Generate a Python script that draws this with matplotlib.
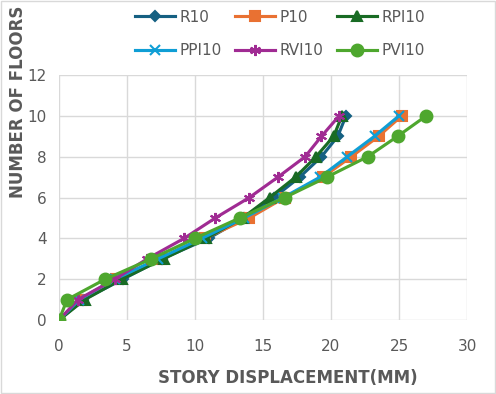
import matplotlib
matplotlib.use("Agg")
import matplotlib.pyplot as plt

floors = [0, 1, 2, 3, 4, 5, 6, 7, 8, 9, 10]
r10 = [0, 1.8, 4.7, 7.6, 11.0, 13.6, 15.8, 17.7, 19.3, 20.5, 21.1]
p10 = [0, 1.6, 4.2, 7.5, 10.7, 14.0, 16.6, 19.4, 21.5, 23.5, 25.2]
rpi10 = [0, 1.9, 4.6, 7.7, 10.8, 13.5, 15.5, 17.4, 18.9, 20.2, 20.8]
ppi10 = [0, 1.5, 4.1, 7.3, 10.5, 13.6, 16.5, 19.2, 21.2, 23.2, 25.0]
rvi10 = [0, 1.4, 4.1, 6.5, 9.2, 11.5, 14.0, 16.1, 18.1, 19.3, 20.6]
pvi10 = [0, 0.6, 3.4, 6.8, 10.0, 13.3, 16.6, 19.7, 22.7, 24.9, 27.0]

series = [
    ("R10", r10, "#156082", "D", 5.5),
    ("P10", p10, "#E97132", "s", 7.5),
    ("RPI10", rpi10, "#196B24", "^", 7.5),
    ("PPI10", ppi10, "#0F9ED5", "x", 6.5),
    ("RVI10", rvi10, "#A02B93", (6, 2, 0), 8),
    ("PVI10", pvi10, "#4EA72E", "o", 8.5),
]

fig = plt.figure(figsize=(4.96, 3.94), dpi=100)
ax = fig.add_axes([59 / 496, 1 - 320 / 394, (467 - 59) / 496, (320 - 75) / 394])

lines = {}
for name, xs, col, mk, ms in series:
    lines[name], = ax.plot(xs, floors, color=col, lw=2.25, marker=mk, ms=ms,
                           mew=1.5, label=name, zorder=3)

ax.set_xlim(0, 30)
ax.set_ylim(0, 12)
ax.set_xticks(range(0, 31, 5))
ax.set_yticks(range(0, 13, 2))
ax.grid(True, color="#d9d9d9", lw=1)
ax.set_axisbelow(True)
for s in ax.spines.values():
    s.set_visible(False)
ax.tick_params(length=0, colors="#595959", labelsize=11)
ax.tick_params(axis="x", pad=14)
ax.tick_params(axis="y", pad=9)

fig.text(288 / 496, 1 - 378 / 394, "STORY DISPLACEMENT(MM)", fontsize=12,
         fontweight="bold", color="#595959", ha="center", va="center")
fig.text(18 / 496, 1 - 102 / 394, "NUMBER OF FLOORS", fontsize=12,
         fontweight="bold", color="#595959", ha="center", va="center",
         rotation=90)

# ncol=3 fills column-wise, so reorder to read row by row
order = ["R10", "PPI10", "P10", "RVI10", "RPI10", "PVI10"]
fig.legend([lines[n] for n in order], order, loc="upper center",
           bbox_to_anchor=(0.565, 1.01), ncol=3, frameon=False, fontsize=11,
           labelcolor="#595959", handlelength=2.6, columnspacing=0.9,
           handletextpad=0.3, labelspacing=1.2)

fig.patches.append(plt.Rectangle((0.002, 0.002), 0.996, 0.996,
                                 transform=fig.transFigure, fill=False,
                                 edgecolor="#d9d9d9", lw=1))

fig.savefig("out.png", dpi=100)
